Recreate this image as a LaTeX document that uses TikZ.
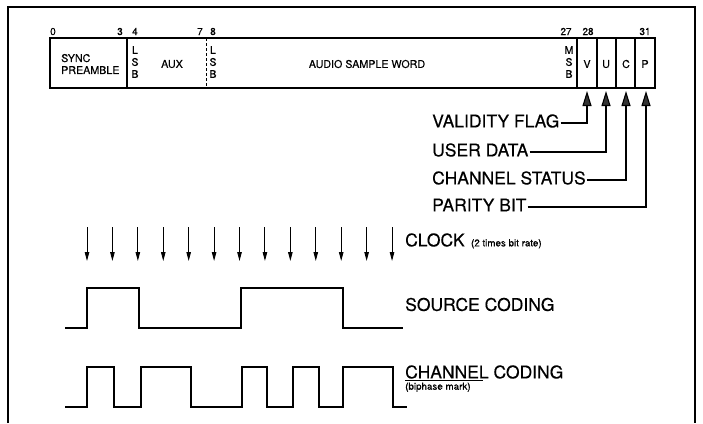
\documentclass[tikz,border=0pt]{standalone}
\usepackage{fontspec}
\setmainfont{TeX Gyre Heros}[FakeBold=0.35]
\usetikzlibrary{arrows.meta}
\begin{document}
\begin{tikzpicture}[x=1pt,y=-1pt,
  frameline/.style={line width=1.4pt},
  fieldbox/.style={draw=none,inner sep=0pt,outer sep=0pt,minimum height=50pt,anchor=north west},
  boxline/.style={line width=1.2pt},
  bitnum/.style={font=\fontsize{10}{10}\selectfont,inner sep=0pt,anchor=base},
  fieldtxt/.style={font=\fontsize{10.7}{12}\selectfont,inner sep=0pt,align=left},
  stacktxt/.style={font=\fontsize{10.5}{12}\selectfont,inner sep=0pt,align=center},
  biglbl/.style={font=\fontsize{17.5}{17.5}\selectfont,inner sep=0pt,anchor=west},
  smalllbl/.style={font=\fontsize{9.8}{9.8}\selectfont,inner sep=0pt},
  flagarrow/.style={line width=1.1pt,-{Triangle[length=15pt,width=9pt,fill=black!80]}},
  clockarrow/.style={line width=0.9pt,-{Triangle[length=9pt,width=4.5pt]}},
  wave/.style={line width=1.2pt,line join=miter},
]
\useasboundingbox (0,0) rectangle (703,423);
% outer frame
\draw[frameline] (8,423) -- (8,7) -- (695,7) -- (695,423);

% fields
\node[fieldbox,minimum width=77pt] (sync) at (50,38) {};
\node[fieldbox,minimum width=79pt] (aux) at (127,38) {};
\node[fieldbox,minimum width=371pt] (audio) at (206,38) {};
\node[fieldbox,minimum width=20pt] (vf) at (577,38) {};
\node[fieldbox,minimum width=19pt] (uf) at (597,38) {};
\node[fieldbox,minimum width=19pt] (cf) at (616,38) {};
\node[fieldbox,minimum width=20pt] (pf) at (635,38) {};
\draw[boxline] (sync.north west) rectangle (pf.south east);
\draw[boxline] (sync.north east) -- (sync.south east);
\draw[line width=0.8pt,dash pattern=on 3pt off 2pt] (aux.north east) -- (aux.south east);
\draw[boxline] (audio.north east) -- (audio.south east);
\draw[boxline] (vf.north east) -- (vf.south east);
\draw[boxline] (uf.north east) -- (uf.south east);
\draw[boxline] (cf.north east) -- (cf.south east);

% bit numbers
\node[bitnum,anchor=base west] (n0) at (50,35) {0};
\node[bitnum] (n3) at (120,35) {3};
\node[bitnum] (n4) at (135,35) {4};
\node[bitnum] (n7) at (200,35) {7};
\node[bitnum] (n8) at (213,35) {8};
\node[bitnum] (n27) at (566,35) {27};
\node[bitnum] (n28) at (588,35) {28};
\node[bitnum] (n31) at (645,35) {31};

% field texts
\node[fieldtxt,anchor=west] (synct) at (61,64) {SYNC\\PREAMBLE};
\node[stacktxt] (lsb1) at (135,62) {L\\S\\B};
\node[fieldtxt] (auxt) at (172,64) {AUX};
\node[stacktxt] (lsb2) at (213,62) {L\\S\\B};
\node[fieldtxt] (audiot) at (367,64) {AUDIO SAMPLE WORD};
\node[stacktxt] (msb) at (569,62) {M\\S\\B};
\node[fieldtxt] (vt) at (587,64) {V};
\node[fieldtxt] (ut) at (606,64) {U};
\node[fieldtxt] (ctt) at (626,64) {C};
\node[fieldtxt] (pt) at (645,64) {P};

% flag labels and arrows
\coordinate (vtip) at (587,91);
\coordinate (utip) at (606,91);
\coordinate (ctip) at (626,91);
\coordinate (ptip) at (646,91);
\node[biglbl] (vl) at (432,121) {VALIDITY FLAG};
\node[biglbl] (ul) at (432,150) {USER DATA};
\node[biglbl] (cl) at (432,178) {CHANNEL STATUS};
\node[biglbl] (pl) at (432,205) {PARITY BIT};
\draw[flagarrow] ([xshift=1pt,yshift=-2pt]vl.east) -| (vtip);
\draw[flagarrow] ([xshift=1pt,yshift=-2pt]ul.east) -| (utip);
\draw[flagarrow] ([xshift=1pt,yshift=-2pt]cl.east) -| (ctip);
\draw[flagarrow] ([xshift=1pt,yshift=-2pt]pl.east) -| (ptip);

% clock
\foreach \k in {0,...,12}{
  \coordinate (ct\k) at ({87+25.42*\k},227);
  \coordinate (cb\k) at ({87+25.42*\k},261);
  \draw[clockarrow] (ct\k) -- (cb\k);
}
\node[biglbl] (clock) at (405,240) {CLOCK};
\node[smalllbl,anchor=base west] (rate) at ([xshift=6pt]clock.base east) {(2 times bit rate)};

% source coding
\draw[wave] (65,328) -- (87,328) -- (87,288) -- (139,288) -- (139,328) -- (241,328)
  -- (241,288) -- (343,288) -- (343,328) -- (403,328);
\node[biglbl] (src) at (405,304.5) {SOURCE CODING};

% channel coding
\draw[wave] (65,407) -- (87,407) -- (87,367) -- (114,367) -- (114,407) -- (141,407)
  -- (141,367) -- (191,367) -- (191,407) -- (242,407) -- (242,367) -- (267,367)
  -- (267,407) -- (293,407) -- (293,367) -- (319,367) -- (319,407) -- (343,407)
  -- (343,367) -- (393,367) -- (393,407) -- (407,407);
\node[biglbl] (chan) at (405,372) {CHANNEL CODING};
\draw[line width=0.6pt] ([yshift=-1.2pt]chan.south west) -- ++(78,0);
\node[smalllbl,anchor=north west] (biph) at ([yshift=-3.5pt]chan.south west) {(biphase mark)};
\end{tikzpicture}
\end{document}
